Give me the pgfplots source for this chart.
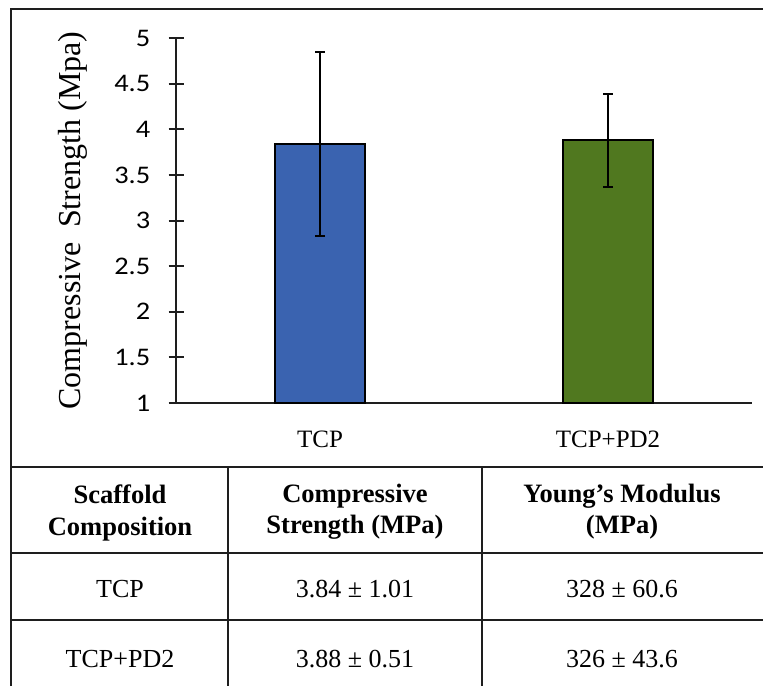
\documentclass[border=0pt]{standalone}
\usepackage{fontspec}
\setmainfont{Liberation Serif}
\newfontfamily\tickfont[FakeStretch=1.12]{Carlito}
\usepackage{pgfplots}
\pgfplotsset{compat=1.18}
\definecolor{barblue}{HTML}{3A63B0}
\definecolor{bargreen}{HTML}{50781F}
\definecolor{frame}{HTML}{1E1E1E}
\begin{document}
\begin{tikzpicture}
\useasboundingbox (0pt,0pt) rectangle (572.25pt,-514.5pt);
\begin{axis}[
  at={(132pt,-302.25pt)}, anchor=south west,
  scale only axis, width=432pt, height=273.75pt,
  xmin=-0.5, xmax=1.5, ymin=1, ymax=5,
  axis x line=bottom, axis y line=left,
  axis line style={-, line width=1.5pt, color=frame},
  xtick={0,1}, xticklabels={TCP,TCP+PD2},
  x tick style={draw=none},
  xticklabel style={font=\fontsize{18.75}{20}\selectfont, anchor=base, yshift=-22pt},
  ytick={1,1.5,2,2.5,3,3.5,4,4.5,5},
  yticklabels={1,1.5,2,2.5,3,3.5,4,4.5,5},
  ytick align=center, major tick length=11.25pt,
  y tick style={line width=1.5pt, color=frame},
  yticklabel style={font=\tickfont\fontsize{19}{20}\selectfont, anchor=east, inner sep=0pt, xshift=-13.5pt},
  ylabel={Compressive\hspace{0.45em}Strength (Mpa)},
  ylabel style={font=\fontsize{24}{26}\selectfont, at={(axis description cs:0,0.5)}, anchor=center, yshift=77.25pt},
  ybar, bar width=67.5pt,
  error bars/y dir=both, error bars/y explicit,
  error bars/error bar style={line width=1.5pt, black},
  error bars/error mark options={rotate=90, mark size=3.75pt, line width=1.5pt, black},
]
\addplot[bar shift=0pt, fill=barblue, draw=black, line width=1.5pt]
  coordinates {(0,3.84) +- (0,1.01)};
\addplot[bar shift=0pt, fill=bargreen, draw=black, line width=1.5pt]
  coordinates {(1,3.88) +- (0,0.51)};
\end{axis}
\begin{scope}[x=0.75pt,y=-0.75pt]
\draw[line width=1.5pt, frame] (11,686) -- (11,9) -- (763,9);
\draw[line width=1.5pt, frame] (11,467) -- (763,467);
\draw[line width=1.5pt, frame] (11,553) -- (763,553);
\draw[line width=1.5pt, frame] (11,620) -- (763,620);
\draw[line width=1.5pt, frame] (228,467) -- (228,686);
\draw[line width=1.5pt, frame] (482,467) -- (482,686);
\begin{scope}[every node/.style={anchor=base, inner sep=0pt, font=\bfseries\fontsize{19.9}{22}\selectfont}]
\node at (120,503) {Scaffold};
\node at (120,535) {Composition};
\node at (355,502) {Compressive};
\node at (355,533) {Strength (MPa)};
\node at (622,502) {Young’s Modulus};
\node at (622,533) {(MPa)};
\end{scope}
\begin{scope}[every node/.style={anchor=base, inner sep=0pt, font=\fontsize{19.5}{22}\selectfont}]
\node at (120,597) {TCP};
\node at (355,597) {3.84 ± 1.01};
\node at (622,597) {328 ± 60.6};
\node at (120,667) {TCP+PD2};
\node at (355,667) {3.88 ± 0.51};
\node at (622,667) {326 ± 43.6};
\end{scope}
\end{scope}
\end{tikzpicture}
\end{document}
